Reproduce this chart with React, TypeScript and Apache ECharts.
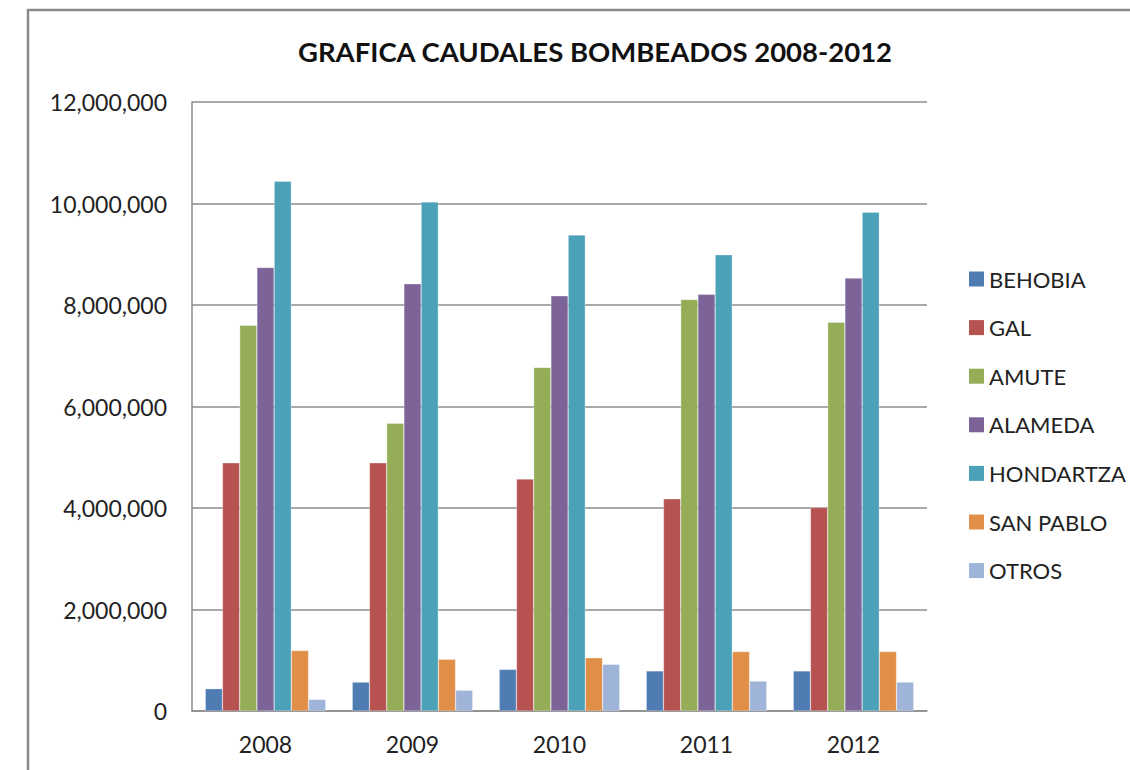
import React, { useEffect, useRef } from "react";
import * as echarts from "echarts";

const years = ["2008", "2009", "2010", "2011", "2012"];
const seriesNames = ["BEHOBIA", "GAL", "AMUTE", "ALAMEDA", "HONDARTZA", "SAN PABLO", "OTROS"];
const behobia = [440000, 570000, 820000, 790000, 790000];
const gal = [4890000, 4890000, 4570000, 4180000, 4010000];
const amute = [7600000, 5670000, 6770000, 8110000, 7660000];
const alameda = [8740000, 8420000, 8180000, 8210000, 8530000];
const hondartza = [10440000, 10030000, 9380000, 8990000, 9830000];
const sanPablo = [1190000, 1020000, 1050000, 1170000, 1170000];
const otros = [230000, 410000, 920000, 590000, 570000];
const seriesValues = [behobia, gal, amute, alameda, hondartza, sanPablo, otros];
const colors = ["#4f7db3", "#b65250", "#94ad56", "#7c6499", "#4ba2b8", "#e08e48", "#9fb4d9"];
const yTicks = [0, 2000000, 4000000, 6000000, 8000000, 10000000, 12000000];

const FONT = "Lato";

export default function App() {
  const ref = useRef<HTMLDivElement>(null);
  useEffect(() => {
    if (!ref.current) return;
    const chart = echarts.init(ref.current, null, { renderer: "svg" });
    chart.setOption({
      animation: false,
      backgroundColor: "#ffffff",
      title: {
        text: "GRAFICA CAUDALES BOMBEADOS 2008-2012",
        left: 590,
        textAlign: "center",
        top: 32,
        textStyle: { fontFamily: FONT, fontWeight: "bold", fontSize: 27.5, color: "#111111" },
      },
      legend: {
        orient: "vertical",
        left: 964,
        top: 263,
        itemWidth: 15,
        itemHeight: 15,
        itemGap: 26.6,
        itemTextGap: 6,
        itemStyle: { borderWidth: 0 },
        icon: "rect",
        textStyle: { fontFamily: FONT, fontSize: 22, color: "#222222", padding: [0, 0, 0, 0], lineHeight: 22 },
        data: seriesNames,
      },
      grid: { left: 192, right: 1130 - 927, top: 102, bottom: 770 - 711, containLabel: false },
      xAxis: {
        type: "category",
        data: years,
        axisLine: { lineStyle: { color: "#8c8c8c", width: 1.5 } },
        axisTick: { show: false },
        axisLabel: { fontFamily: FONT, fontSize: 23, color: "#222222", margin: 21 },
      },
      yAxis: {
        type: "value",
        min: 0,
        max: 12000000,
        interval: 2000000,
        axisLine: { show: true, lineStyle: { color: "#8c8c8c", width: 1.5 } },
        axisTick: { show: false },
        splitLine: { lineStyle: { color: "#8c8c8c", width: 1.5 } },
        axisLabel: {
          fontFamily: FONT,
          fontSize: 23,
          color: "#222222",
          margin: 25,
          formatter: (v: number) => (yTicks.includes(v) ? v.toLocaleString("en-US") : ""),
        },
      },
      series: seriesNames.map((name, i) => ({
        name,
        type: "bar",
        data: seriesValues[i],
        barGap: "0%",
        barCategoryGap: "18%",
        itemStyle: { color: colors[i], borderColor: "rgba(255,255,255,0.6)", borderWidth: 0.5 },
      })),
      graphic: [
        {
          type: "polyline",
          shape: { points: [[28, 770], [28, 10], [1130, 10]] },
          style: { stroke: "#8a8a8a", lineWidth: 2.5, fill: "none" },
        },
      ],
    });
    return () => chart.dispose();
  }, []);
  return <div ref={ref} style={{ position: "fixed", left: 0, top: 0, width: 1130, height: 770 }} />;
}
